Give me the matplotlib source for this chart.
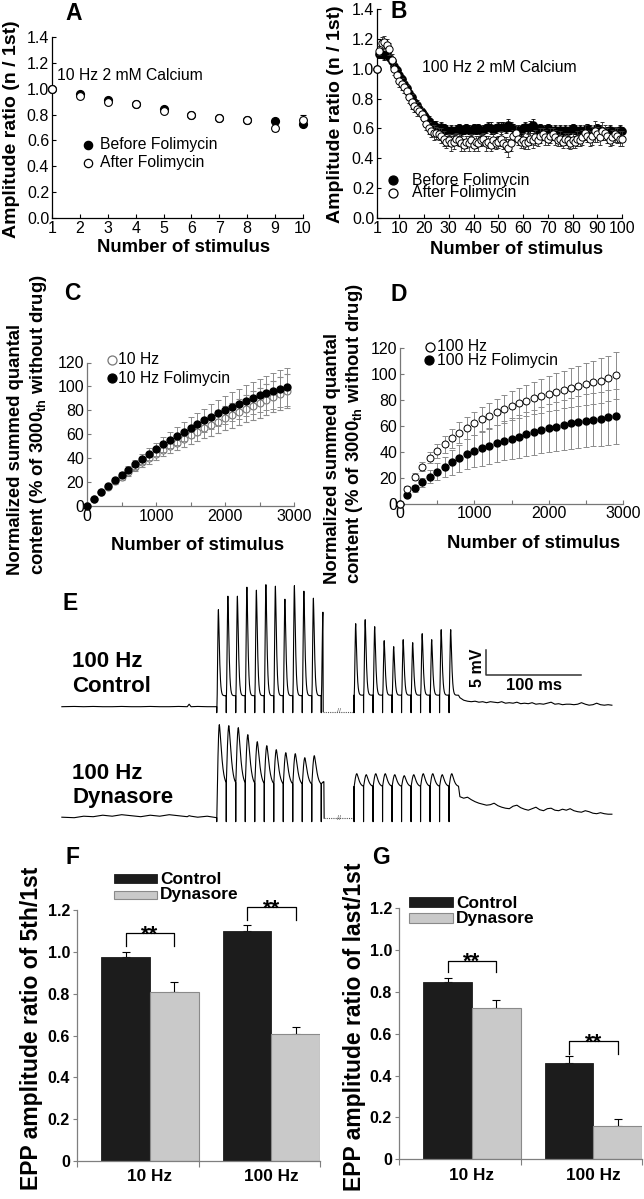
import numpy as np
import matplotlib
matplotlib.use("Agg")
import matplotlib.pyplot as plt
from matplotlib.lines import Line2D
from matplotlib.patches import Rectangle

plt.rcParams['font.family'] = ['Liberation Sans', 'DejaVu Sans']
plt.rcParams['mathtext.fontset'] = 'custom'
plt.rcParams['mathtext.rm'] = 'Liberation Sans'
plt.rcParams['mathtext.bf'] = 'Liberation Sans:bold'
plt.rcParams['mathtext.it'] = 'Liberation Sans:italic'

# ------------------------------------------------------------------ data
# Panel A : 10 Hz, 2 mM Ca
a_stim = [1, 2, 3, 4, 5, 6, 7, 8, 9, 10]
a_before = [1.00, 0.96, 0.915, 0.88, 0.845, 0.80, 0.77, 0.755, 0.75, 0.73]
a_before_err = [0.0, 0.012, 0.012, 0.012, 0.015, 0.015, 0.015, 0.015, 0.015, 0.02]
a_after = [1.00, 0.94, 0.895, 0.88, 0.83, 0.80, 0.77, 0.755, 0.695, 0.755]
a_after_err = [0.0, 0.015, 0.015, 0.012, 0.02, 0.015, 0.015, 0.015, 0.02, 0.04]

# Panel B : 100 Hz, 2 mM Ca
b_stim = list(range(1, 101))
b_before = [1.00, 1.10, 1.10, 1.09, 1.10, 1.08, 1.05, 1.02, 0.99, 0.96,
            0.93, 0.90, 0.87, 0.84, 0.81, 0.78, 0.76, 0.73, 0.71, 0.69,
            0.67, 0.65, 0.63, 0.62, 0.61, 0.60, 0.61, 0.60, 0.59, 0.58,
            0.59, 0.58, 0.59, 0.60, 0.58, 0.59, 0.60, 0.59, 0.58, 0.60,
            0.59, 0.60, 0.58, 0.59, 0.60, 0.61, 0.60, 0.59, 0.60, 0.61,
            0.60, 0.61, 0.60, 0.62, 0.61, 0.60, 0.58, 0.59, 0.58, 0.60,
            0.61, 0.60, 0.61, 0.62, 0.60, 0.59, 0.60, 0.58, 0.59, 0.60,
            0.59, 0.58, 0.59, 0.58, 0.59, 0.58, 0.59, 0.58, 0.59, 0.60,
            0.59, 0.58, 0.59, 0.58, 0.59, 0.60, 0.59, 0.58, 0.59, 0.60,
            0.59, 0.58, 0.57, 0.58, 0.59, 0.58, 0.57, 0.58, 0.59, 0.58]
b_before_err = [0.00, 0.03, 0.03, 0.03, 0.03, 0.03, 0.03, 0.03, 0.03, 0.03,
                0.03, 0.03, 0.03, 0.03, 0.03, 0.03, 0.03, 0.03, 0.03, 0.03,
                0.03, 0.03, 0.03, 0.03, 0.04, 0.03, 0.03, 0.03, 0.03, 0.03,
                0.03, 0.03, 0.03, 0.03, 0.03, 0.03, 0.03, 0.03, 0.03, 0.03,
                0.03, 0.03, 0.03, 0.03, 0.03, 0.03, 0.04, 0.03, 0.03, 0.03,
                0.04, 0.03, 0.03, 0.04, 0.03, 0.03, 0.03, 0.03, 0.03, 0.03,
                0.03, 0.03, 0.04, 0.04, 0.03, 0.03, 0.03, 0.03, 0.03, 0.03,
                0.03, 0.03, 0.03, 0.03, 0.03, 0.03, 0.03, 0.03, 0.03, 0.03,
                0.03, 0.03, 0.03, 0.03, 0.03, 0.03, 0.03, 0.03, 0.03, 0.03,
                0.03, 0.03, 0.03, 0.03, 0.03, 0.03, 0.03, 0.03, 0.03, 0.03]
b_after = [1.00, 1.12, 1.17, 1.18, 1.16, 1.13, 1.06, 1.00, 0.96, 0.92,
           0.90, 0.88, 0.85, 0.81, 0.78, 0.75, 0.73, 0.72, 0.70, 0.67,
           0.63, 0.60, 0.58, 0.57, 0.57, 0.56, 0.55, 0.53, 0.51, 0.52,
           0.50, 0.51, 0.53, 0.52, 0.50, 0.49, 0.51, 0.50, 0.52, 0.49,
           0.51, 0.50, 0.52, 0.53, 0.50, 0.51, 0.49, 0.52, 0.50, 0.51,
           0.53, 0.50, 0.49, 0.47, 0.50, 0.55, 0.57, 0.53, 0.51, 0.52,
           0.50, 0.51, 0.53, 0.52, 0.54, 0.52, 0.55, 0.56, 0.54, 0.53,
           0.55, 0.56, 0.54, 0.52, 0.53, 0.51, 0.53, 0.52, 0.50, 0.52,
           0.51, 0.53, 0.52, 0.54, 0.57, 0.55, 0.53, 0.55, 0.58, 0.56,
           0.54, 0.58, 0.57, 0.55, 0.52, 0.54, 0.56, 0.55, 0.53, 0.53]
b_after_err = [0.00, 0.03, 0.04, 0.04, 0.04, 0.04, 0.04, 0.04, 0.04, 0.04,
               0.04, 0.04, 0.04, 0.04, 0.05, 0.04, 0.05, 0.04, 0.04, 0.04,
               0.04, 0.04, 0.04, 0.05, 0.04, 0.04, 0.05, 0.05, 0.04, 0.04,
               0.05, 0.05, 0.04, 0.04, 0.05, 0.04, 0.04, 0.05, 0.04, 0.04,
               0.04, 0.05, 0.04, 0.04, 0.05, 0.04, 0.04, 0.05, 0.04, 0.04,
               0.05, 0.04, 0.05, 0.06, 0.05, 0.04, 0.05, 0.04, 0.04, 0.05,
               0.04, 0.05, 0.04, 0.05, 0.05, 0.04, 0.05, 0.04, 0.05, 0.04,
               0.05, 0.04, 0.05, 0.04, 0.05, 0.04, 0.04, 0.05, 0.04, 0.05,
               0.04, 0.05, 0.04, 0.05, 0.05, 0.04, 0.05, 0.06, 0.07, 0.05,
               0.05, 0.06, 0.05, 0.05, 0.04, 0.05, 0.05, 0.05, 0.05, 0.05]

# Panel C : summed quantal content, 10 Hz
c_stim = list(range(0, 3000, 100))
c_ctrl = [0, 6, 11.5, 16, 20.5, 24.5, 28.5, 32.5, 36.5, 40, 43.5, 47, 50, 53, 56,
          59, 62, 65, 67.5, 70.5, 73.5, 76, 78.5, 81.5, 84, 86.5, 89, 91.5, 94, 96]
c_ctrl_err = [0, 0.8, 1.2, 1.6, 2, 2.5, 3, 3.5, 4, 4.5, 5, 5.5, 6, 6.5, 7,
              7.5, 8, 8.5, 9, 9.5, 10, 10.5, 11, 11.5, 12, 12.5, 13, 13, 13.5, 14]
c_fol = [0, 6, 11.5, 16.5, 21.5, 26, 30.5, 35, 39.5, 43.5, 47.5, 51.5, 55, 58.5, 62,
         65.5, 68.5, 71.5, 74.5, 77.5, 80.5, 83, 85.5, 88, 90.5, 92.5, 94.5, 96.5, 98, 99.5]
c_fol_err = [0, 0.8, 1.2, 1.6, 2, 2.6, 3.2, 3.8, 4.4, 5, 5.6, 6.2, 6.8, 7.4, 8,
             8.6, 9.2, 9.8, 10.4, 11, 11.6, 12, 12.6, 13, 13.6, 14, 14.6, 15, 15.5, 16]

# Panel D : summed quantal content, 100 Hz
d_stim = list(range(0, 3000, 100))
d_ctrl = [0, 11.2, 20.7, 28.4, 35.4, 40.8, 45.6, 50.3, 54.6, 58.5, 61.9, 64.9, 67.8, 70.6, 72.9,
          75.5, 77.6, 79.4, 81.2, 83.0, 84.8, 86.4, 87.9, 89.2, 90.8, 92.1, 93.6, 94.9, 96.7, 98.8]
d_ctrl_err = [0, 2, 2.5, 3.5, 4.5, 5.5, 6.5, 7.5, 8, 8.5, 9, 9.5, 10, 10, 10.5,
              11, 11.5, 12, 12.5, 13, 13.5, 14, 14.5, 15, 15.5, 16, 16.5, 17, 17.5, 18]
d_fol = [0, 6.6, 11.7, 16.3, 20.7, 24.5, 28.1, 31.7, 34.9, 37.9, 40.5, 42.6, 44.6, 46.4, 48.3,
         50.1, 51.6, 53.4, 55.0, 56.8, 58.1, 59.4, 60.7, 61.9, 62.8, 63.8, 64.6, 65.4, 66.4, 67.2]
d_fol_err = [0, 1.5, 2.5, 3.5, 5, 6.5, 8, 9.5, 10.5, 11.5, 12.5, 13.5, 14, 14.5, 15,
             16, 16.5, 17, 17.5, 18, 18.5, 19, 19.5, 19.5, 20, 20.5, 20.5, 21, 21, 21.5]

# Panel E : EPP trains (peak amplitudes in mV above baseline)
ISI = 10.0  # ms, 100 Hz
e_ctrl_train1 = [19.4, 22.1, 22.1, 23.9, 23.3, 24.4, 24.1, 21.5, 24.2, 23.1, 21.7, 18.9]
e_ctrl_train2 = [16.6, 17.4, 16.0, 13.2, 12.0, 13.4, 12.8, 14.6, 13.4, 15.4, 15.4]
e_dyn_train1 = [18.6, 18.4, 18.0, 16.6, 15.2, 14.4, 13.6, 13.0, 12.8, 12.0, 12.4, 7.2]
e_dyn_train2 = [8.8, 8.6, 8.8, 8.8, 8.6, 8.4, 8.6, 8.8, 8.8, 8.6, 8.8]
e_pre_t = [-163, -150, -140, -130, -120, -110, -100, -90, -80, -70, -60, -50, -40,
           -31, -29, -27, -20, -10, 0]
e_ctrl_pre = [0, 0.05, 0, 0.05, 0, 0, 0.05, 0, 0, 0.05, 0, 0, 0.05, 0, 0.5, 0, 0.05, 0, 0]
e_dyn_pre = [0.1, 0.0, 0.3, 0.2, 0.5, 0.3, 0.6, 0.4, 0.2, 0.5, 0.3, 0.6, 0.4,
             0.2, 0.4, 0.3, 0.1, 0.3, 0.0]
e_tail_t = list(range(256, 417, 4))
e_ctrl_tail = [1.8, 1.3, 1.1, 1.0, 1.1, 0.9, 1.0, 0.8, 1.0, 0.9, 0.8, 1.0, 0.7, 0.8, 0.7,
               0.9, 0.6, 0.7, 0.6, 0.8, 0.5, 0.6, 0.5, 0.7, 0.9, 0.5, 0.6, 0.4, 0.5, 0.5,
               0.4, 0.5, 0.8, 0.5, 0.3, 0.4, 0.7, 0.4, 0.3, 0.4, 0.3]
e_dyn_tail = [4.2, 3.9, 4.1, 3.6, 3.2, 2.9, 2.7, 2.5, 2.6, 2.9, 2.4, 2.1, 1.9, 1.8, 2.3,
              2.5, 2.0, 1.7, 1.5, 1.8, 2.1, 1.6, 1.4, 1.8, 1.9, 1.5, 1.4, 1.7, 1.5, 1.8,
              1.4, 1.2, 1.1, 1.4, 1.2, 0.9, 0.8, 1.0, 0.8, 0.7, 0.7]

# Panels F, G : bar charts
groups = ['10 Hz', '100 Hz']
series_names = ['Control', 'Dynasore']
f_control = [0.975, 1.10]
f_control_err = [0.025, 0.03]
f_dyn = [0.81, 0.605]
f_dyn_err = [0.045, 0.035]
g_control = [0.847, 0.462]
g_control_err = [0.02, 0.03]
g_dyn = [0.722, 0.157]
g_dyn_err = [0.038, 0.035]

# ------------------------------------------------------------------ figure
W, H = 644, 1199
fig = plt.figure(figsize=(W / 100, H / 100), dpi=100)
fig.patch.set_facecolor('white')


def add_ax(l, t, r, b):
    return fig.add_axes([l / W, 1 - b / H, (r - l) / W, (b - t) / H])


def ftext(x, y, s, **kw):
    kw.setdefault('ha', 'center')
    kw.setdefault('va', 'center')
    return fig.text(x / W, 1 - y / H, s, **kw)


def fmarker(x, y, filled, ms=6, ec='black'):
    fig.add_artist(Line2D([x / W], [1 - y / H], marker='o', ms=ms,
                          mfc='black' if filled else 'white', mec=ec, mew=0.9,
                          ls='none', transform=fig.transFigure))


def style(ax, color='black', labelsize=11.5):
    for s in ['top', 'right']:
        ax.spines[s].set_visible(False)
    for s in ['left', 'bottom']:
        ax.spines[s].set_color(color)
        ax.spines[s].set_linewidth(0.9)
    ax.tick_params(direction='in', length=3, width=0.8, pad=2,
                   labelsize=labelsize, color=color)


def noclip(container):
    for art in container.get_children():
        art.set_clip_on(False)


LBL = dict(fontsize=13.3, fontweight='bold')
PAN = dict(fontsize=16.5, fontweight='bold')
ANN = dict(fontsize=11.3)

# ---------------- Panel A
axA = add_ax(52, 37, 303, 218)
noclip(axA.errorbar(a_stim, a_before, yerr=a_before_err, fmt='o', ms=5.6, mfc='black',
                    mec='black', ecolor='black', elinewidth=0.7, capsize=2,
                    capthick=0.7, zorder=3))
noclip(axA.errorbar(a_stim, a_after, yerr=a_after_err, fmt='o', ms=5.6, mfc='white',
                    mec='black', mew=0.8, ecolor='black', elinewidth=0.7, capsize=2,
                    capthick=0.7, zorder=4))
axA.set_xlim(1, 10)
axA.set_ylim(0, 1.4)
axA.set_xticks(a_stim)
axA.set_yticks(np.arange(0, 1.41, 0.2))
axA.set_yticklabels(['%.1f' % v for v in np.arange(0, 1.41, 0.2)])
style(axA)
ftext(73.5, 13, 'A', **PAN)
ftext(12, 129, 'Amplitude ratio (n / 1st)', rotation=90, fontsize=14, fontweight='bold')
ftext(184, 248, 'Number of stimulus', **LBL)
ftext(57, 75, '10 Hz 2 mM Calcium', ha='left', **ANN)
fmarker(88, 145, True)
fmarker(88, 163, False)
ftext(100, 145, 'Before Folimycin', ha='left', **ANN)
ftext(100, 163, 'After Folimycin', ha='left', **ANN)

# ---------------- Panel B
axB = add_ax(377, 9, 622, 218)
noclip(axB.errorbar(b_stim, b_before, yerr=b_before_err, fmt='o', ms=5.2, mfc='black',
                    mec='black', ecolor='black', elinewidth=0.6, capsize=1.5,
                    capthick=0.6, zorder=3))
noclip(axB.errorbar(b_stim, b_after, yerr=b_after_err, fmt='o', ms=5.2, mfc='white',
                    mec='black', mew=0.7, ecolor='#333333', elinewidth=0.6, capsize=1.5,
                    capthick=0.6, zorder=4))
axB.set_xlim(1, 100)
axB.set_ylim(0, 1.4)
b_ticks = [1, 10, 20, 30, 40, 50, 60, 70, 80, 90, 100]
axB.set_xticks(b_ticks)
axB.set_xticklabels([str(v) for v in b_ticks])
axB.set_yticks(np.arange(0, 1.41, 0.2))
axB.set_yticklabels(['%.1f' % v for v in np.arange(0, 1.41, 0.2)])
style(axB)
ftext(398.5, 12, 'B', **PAN)
ftext(336, 114, 'Amplitude ratio (n / 1st)', rotation=90, fontsize=14, fontweight='bold')
ftext(517, 250, 'Number of stimulus', **LBL)
ftext(422, 67, '100 Hz 2 mM Calcium', ha='left', **ANN)
fmarker(393, 180, True, ms=6.5)
fmarker(393, 193, False, ms=6.5)
ftext(412, 180, 'Before Folimycin', ha='left', **ANN)
ftext(412, 193, 'After Folimycin', ha='left', **ANN)

# ---------------- Panel C
ylab_cd = ('Normalized summed quantal\n'
           r'content (% of 3000$_{\mathbf{th}}$ without drug)')
axC = add_ax(87, 362.5, 294, 506)
noclip(axC.errorbar(c_stim, c_ctrl, yerr=c_ctrl_err, fmt='o', ms=5, mfc='white',
                    mec='#777777', mew=0.8, ecolor='#8c8c8c', elinewidth=0.7, capsize=2,
                    capthick=0.7, zorder=3))
noclip(axC.errorbar(c_stim, c_fol, yerr=c_fol_err, fmt='o', ms=5, mfc='black',
                    mec='black', ecolor='#8c8c8c', elinewidth=0.7, capsize=2,
                    capthick=0.7, zorder=4))
axC.set_xlim(0, 3000)
axC.set_ylim(0, 120)
axC.set_xticks([0, 1000, 2000, 3000])
axC.set_xticks([500, 1500, 2500], minor=True)
axC.set_yticks(range(0, 121, 20))
style(axC, color='#777777')
axC.tick_params(which='minor', direction='in', length=3, width=0.8, color='#777777')
axC.tick_params(labelcolor='black')
ftext(72.5, 293.5, 'C', **PAN)
ftext(28, 575, ylab_cd, rotation=90, va='bottom', multialignment='left',
      linespacing=1.25, **LBL)
ftext(198, 546, 'Number of stimulus', **LBL)
fmarker(111.7, 360, False, ms=6.5, ec='#777777')
fmarker(111.7, 378.3, True, ms=6.5)
ftext(118, 360, '10 Hz', ha='left', **ANN)
ftext(118, 378.3, '10 Hz Folimycin', ha='left', **ANN)

# ---------------- Panel D
axD = add_ax(400, 348, 623, 503.5)
noclip(axD.errorbar(d_stim, d_fol, yerr=d_fol_err, fmt='o', ms=5, mfc='black',
                    mec='black', ecolor='#8c8c8c', elinewidth=0.7, capsize=2,
                    capthick=0.7, zorder=3))
noclip(axD.errorbar(d_stim, d_ctrl, yerr=d_ctrl_err, fmt='o', ms=5, mfc='white',
                    mec='black', mew=0.7, ecolor='#8c8c8c', elinewidth=0.7, capsize=2,
                    capthick=0.7, zorder=4))
axD.set_xlim(0, 3000)
axD.set_ylim(0, 120)
axD.set_xticks([0, 1000, 2000, 3000])
axD.set_xticks([500, 1500, 2500], minor=True)
axD.set_yticks(range(0, 121, 20))
style(axD, color='#777777')
axD.tick_params(which='minor', direction='in', length=3, width=0.8, color='#777777')
axD.tick_params(labelcolor='black')
ftext(398.5, 294.5, 'D', **PAN)
ftext(344.5, 584, ylab_cd, rotation=90, va='bottom', multialignment='left',
      linespacing=1.25, **LBL)
ftext(534, 543, 'Number of stimulus', **LBL)
fmarker(430, 346.7, False, ms=6.5)
fmarker(429.3, 360, True, ms=6.5)
ftext(437, 346.7, '100 Hz', ha='left', **ANN)
ftext(437, 360, '100 Hz Folimycin', ha='left', **ANN)

# ---------------- Panel E (traces)
PX_MS = 0.95      # pixels per ms
PX_MV = 5.0       # pixels per mV
E_L, E_R, E_T, E_B = 60, 644, 575, 840
T0_PX, BASE_PX = 216.7, 706.7
axE = add_ax(E_L, E_T, E_R, E_B)
axE.set_xlim((E_L - T0_PX) / PX_MS, (E_R - T0_PX) / PX_MS)
axE.set_ylim((BASE_PX - E_B) / PX_MV, (BASE_PX - E_T) / PX_MV)
axE.axis('off')

T2 = (354 - T0_PX) / PX_MS        # start of displayed 2nd train segment
DYN_OFF = -(817.7 - BASE_PX) / PX_MV


def train_wave(t_start, peaks, start, trough, art, t_rise, sig, pw, cut_last):
    """EPP shape: steep rise after the stimulus artifact, sharp-ish apex, decay."""
    ts, vs = [], []
    prev = start
    for i, P in enumerate(peaks):
        ti = t_start + i * ISI
        ts += [ti, ti + 0.05, ti + 0.15]
        vs += [prev, art, prev]
        tr = np.linspace(ti + 0.15, ti + t_rise, 14)[1:]
        x = (tr - ti - 0.15) / (t_rise - 0.15)
        fr = np.sin(0.5 * np.pi * x) ** pw
        ts += list(tr)
        vs += list(prev + (P - prev) * fr)
        if cut_last and i == len(peaks) - 1:
            break
        td = np.linspace(ti + t_rise, ti + ISI, 50)[1:]
        vd = trough + (P - trough) * np.exp(-((td - ti - t_rise) / sig) ** 1.4)
        ts += list(td)
        vs += list(vd)
        prev = vd[-1]
    return ts, vs


def draw_trace(pre, tr1, tr2, tail, off, trough1, trough2, art, t_rise, sig, pw, gap_level):
    t1, v1 = train_wave(0.0, tr1, pre[-1], trough1, art, t_rise[0], sig[0], pw, True)
    t_cut = t1[-1] + 0.3
    xs = list(e_pre_t) + t1 + [t_cut]
    ys = list(pre) + v1 + [gap_level]
    axE.plot(xs, np.array(ys) + off, color='black', lw=0.8, clip_on=False)
    axE.plot([t_cut, T2], [gap_level + off] * 2, color='#555555', lw=0.8, ls=(0, (1, 1)))
    axE.text((t_cut + T2) / 2, gap_level + off, '//', fontsize=5, ha='center', va='center',
             color='#555555')
    t2, v2 = train_wave(T2, tr2, trough2, trough2, art, t_rise[1], sig[1], pw, False)
    xs = [T2] + t2 + list(e_tail_t)
    ys = [gap_level] + v2 + list(tail)
    axE.plot(xs, np.array(ys) + off, color='black', lw=0.8, clip_on=False)


draw_trace(e_ctrl_pre, e_ctrl_train1, e_ctrl_train2, e_ctrl_tail, 0.0,
           2.2, 2.3, -1.2, (1.8, 1.8), (1.5, 1.5), 2.0, -1.0)
draw_trace(e_dyn_pre, e_dyn_train1, e_dyn_train2, e_dyn_tail, DYN_OFF,
           6.5, 6.2, -0.8, (2.8, 3.0), (3.2, 3.0), 1.0, -0.1)

# scale bar: 5 mV / 100 ms
sb_t = (485.7 - T0_PX) / PX_MS
sb_v = (BASE_PX - 675) / PX_MV
axE.plot([sb_t, sb_t, sb_t + 100], [sb_v + 5, sb_v, sb_v], color='#333333', lw=1.1)
ftext(477.5, 667.5, '5 mV', rotation=90, fontsize=11.5, fontweight='bold')
ftext(534, 686, '100 ms', fontsize=12, fontweight='bold')
ftext(70.5, 603.5, 'E', **PAN)
ftext(72, 661.7, '100 Hz', ha='left', fontsize=16, fontweight='bold')
ftext(72, 687, 'Control', ha='left', fontsize=16, fontweight='bold')
ftext(72, 773.3, '100 Hz', ha='left', fontsize=16, fontweight='bold')
ftext(72, 797, 'Dynasore', ha='left', fontsize=16, fontweight='bold')


# ---------------- Panels F and G (bars)
def bar_panel(box, ctrl, ctrl_err, dyn, dyn_err, brackets, ylabel, ylab_xy, letter_xy,
              letter, leg):
    ax = add_ax(*box)
    gx = np.arange(len(groups))
    ax.bar(gx + 0.2, ctrl, width=0.4, align='edge', color='#1c1c1c', edgecolor='#1c1c1c',
           lw=0.6, zorder=2)
    ax.bar(gx + 0.6, dyn, width=0.4, align='edge', color='#c9c9c9', edgecolor='#8a8a8a',
           lw=0.8, zorder=2)
    for xs, vals, errs in [(gx + 0.4, ctrl, ctrl_err), (gx + 0.8, dyn, dyn_err)]:
        ax.errorbar(xs, vals, yerr=[[0] * len(vals), errs], fmt='none', ecolor='black',
                    elinewidth=0.8, capsize=3, capthick=0.8, zorder=1)
    for (x1, x2, ytop, yend) in brackets:
        ax.plot([x1, x1, x2, x2], [yend, ytop, ytop, yend], color='black', lw=0.9,
                clip_on=False)
        ax.text((x1 + x2) / 2, ytop - 0.036, '**', ha='center', va='baseline',
                fontsize=16, fontweight='bold', clip_on=False)
    ax.set_xlim(0, 2)
    ax.set_ylim(0, 1.2)
    yt = np.arange(0, 1.21, 0.2)
    ax.set_yticks(yt)
    ax.set_yticklabels(['0'] + ['%.1f' % v for v in yt[1:]])
    ax.set_xticks([0, 1, 2], minor=True)
    ax.set_xticks(gx + 0.6)
    ax.set_xticklabels(groups)
    for s in ['top', 'right']:
        ax.spines[s].set_visible(False)
    for s in ['left', 'bottom']:
        ax.spines[s].set_color('#7f7f7f')
        ax.spines[s].set_linewidth(0.9)
    ax.tick_params(axis='y', direction='out', length=3, width=0.8, color='#7f7f7f',
                   pad=2, labelsize=11.5)
    ax.tick_params(axis='x', which='major', length=0, pad=6, labelsize=12.4)
    ax.tick_params(axis='x', which='minor', direction='out', length=4, width=0.8,
                   color='#7f7f7f')
    for lab in ax.get_xticklabels() + ax.get_yticklabels():
        lab.set_fontweight('bold')
    ftext(ylab_xy[0], ylab_xy[1], ylabel, rotation=90, fontsize=16.5, fontweight='bold')
    ftext(letter_xy[0], letter_xy[1], letter, **PAN)
    bx0, bx1, (r1t, r1b, r1base), (r2t, r2b, r2base) = leg
    fig.add_artist(Rectangle((bx0 / W, 1 - r1b / H), (bx1 - bx0) / W, (r1b - r1t) / H,
                             transform=fig.transFigure, fc='#1c1c1c', ec='#1c1c1c', lw=0.6))
    fig.add_artist(Rectangle((bx0 / W, 1 - r2b / H), (bx1 - bx0) / W, (r2b - r2t) / H,
                             transform=fig.transFigure, fc='#c9c9c9', ec='#8a8a8a', lw=0.8))
    ftext(bx1 + 3, r1base, series_names[0], ha='left', va='baseline', fontsize=12.4,
          fontweight='bold')
    ftext(bx1 + 3, r2base, series_names[1], ha='left', va='baseline', fontsize=12.4,
          fontweight='bold')
    return ax


bar_panel((77, 910, 320, 1161), f_control, f_control_err, f_dyn, f_dyn_err,
          [(0.4, 0.8, 1.09, 1.03), (1.4, 1.8, 1.212, 1.153)],
          'EPP amplitude ratio of 5th/1st', (32, 1028), (72.5, 857.5), 'F',
          (114, 157, (874, 883, 884), (891, 899, 899)))
bar_panel((399, 908, 642, 1159.3), g_control, g_control_err, g_dyn, g_dyn_err,
          [(0.4, 0.8, 0.949, 0.893), (1.4, 1.8, 0.563, 0.504)],
          'EPP amplitude ratio of last/1st', (355, 1027), (380.5, 857.5), 'G',
          (409, 453, (897, 906.7, 908), (913, 922.7, 922.5)))

fig.savefig('out.png', dpi=100, facecolor='white')
